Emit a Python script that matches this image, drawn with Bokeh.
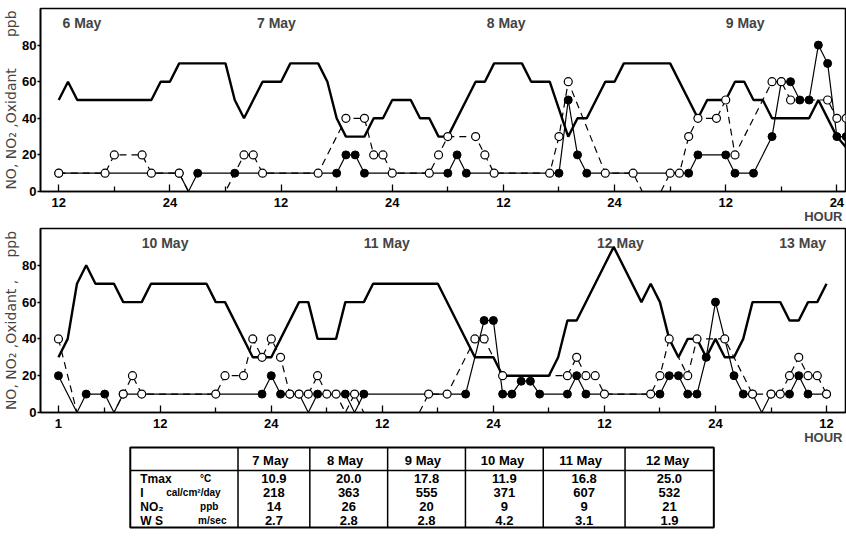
from bokeh.plotting import figure
from bokeh.models import Range1d, FixedTicker, Label, Title
from bokeh.layouts import column
from bokeh.embed import file_html
from bokeh.resources import INLINE
from bokeh.core.properties import value

FONT = "Liberation Sans"
LFONT = "DejaVu Sans"
NB = "\u00a0"

# ---------------- data: upper panel (hours counted from 0:00, 6 May) ----------------
top_ox_t = [12, 13, 14, 22, 23, 24, 25, 30, 31, 32, 34, 36, 37, 40, 41, 42, 43, 45, 46, 47, 48, 50, 51, 52,
            53, 54, 57, 58, 59, 62, 63, 65, 67, 68, 69, 71, 72, 73, 78, 81, 82, 84, 85, 86, 87, 88, 89, 93,
            94, 96, 97]
top_ox_v = [50, 60, 50, 50, 60, 60, 70, 70, 50, 40, 60, 60, 70, 70, 60, 40, 30, 30, 40, 40, 50, 50, 40, 40,
            30, 30, 60, 60, 70, 70, 60, 60, 30, 40, 40, 60, 60, 70, 70, 40, 50, 50, 60, 60, 50, 50, 40, 40,
            50, 30, 24]
top_no_t = [12, 25, 26, 27, 31, 42, 43, 44, 45, 54, 55, 56, 66, 67, 68, 69, 80, 81, 84, 85, 87, 89, 90, 91,
            92, 93, 94, 95, 96, 97]
top_no_v = [10, 10, 0, 10, 10, 10, 20, 20, 10, 10, 20, 10, 10, 50, 20, 10, 10, 20, 20, 10, 10, 30, 60, 60,
            50, 50, 80, 70, 30, 30]
top_no2_t = [12, 17, 18, 21, 22, 25, 26, 30, 32, 33, 34, 40, 43, 45, 46, 47, 48, 52, 53, 54, 57, 58, 59, 65,
             66, 67, 71, 74, 75, 77, 78, 79, 80, 81, 83, 84, 85, 89, 90, 91, 95, 96, 97]
top_no2_v = [10, 10, 20, 20, 10, 10, 0, 0, 20, 20, 10, 10, 40, 40, 20, 20, 10, 10, 20, 30, 30, 20, 10, 10,
             30, 60, 10, 10, 0, 0, 10, 10, 30, 40, 40, 50, 20, 60, 60, 50, 50, 40, 40]
top_ticks = [12, 24, 36, 48, 60, 72, 84, 96]
top_tick_labels = ["12", "24", "12", "24", "12", "24", "12", "24"]
top_minor = [18, 30, 42, 54, 66, 78, 90]
top_days = ["6  May", "7  May", "8  May", "9  May"]
top_day_t = [12.4, 33.4, 58.2, 84.0]
top_ylabel = "NO, NO₂ ,Oxidant" + NB * 7 + "ppb"

# ---------------- data: lower panel (hours counted from 0:00, 10 May) ----------------
bot_ox_t = [1, 2, 3, 4, 5, 7, 8, 10, 11, 17, 18, 19, 22, 24, 27, 28, 29, 31, 32, 34, 35, 42, 46, 48, 49,
            54, 55, 56, 57, 61, 64, 65, 66, 67, 68, 69, 70, 71, 72, 73, 74, 75, 76, 79, 80, 81, 82, 83, 84]
bot_ox_v = [30, 40, 70, 80, 70, 70, 60, 60, 70, 70, 60, 60, 30, 30, 60, 60, 40, 40, 60, 60, 70, 70, 30, 30, 20,
            20, 30, 50, 50, 90, 60, 70, 60, 40, 30, 40, 40, 30, 40, 30, 30, 40, 60, 60, 50, 50, 60, 60, 70]
bot_no_t = [1, 3, 4, 6, 7, 8, 23, 24, 25, 26, 27, 28, 29, 32, 33, 34, 45, 47, 48, 49, 50, 51, 52, 53, 56,
            57, 58, 66, 67, 68, 69, 70, 71, 72, 74, 75, 76, 77, 78, 80, 81, 82, 84]
bot_no_v = [20, 0, 10, 10, 0, 10, 10, 20, 10, 10, 10, 0, 10, 10, 0, 10, 10, 50, 50, 10, 10, 17, 17, 10, 10,
            20, 10, 10, 20, 20, 10, 10, 30, 60, 20, 10, 10, 0, 10, 10, 20, 10, 10]
bot_no2_t = [1, 3, 7, 8, 9, 10, 18, 19, 21, 22, 23, 24, 25, 26, 27, 28, 29, 30, 31, 32, 33, 34, 40, 41, 43,
             46, 47, 49, 56, 57, 58, 59, 60, 65, 66, 67, 69, 70, 73, 76, 78, 79, 80, 81, 82, 83, 84]
bot_no2_v = [40, 0, 0, 10, 20, 10, 10, 20, 20, 40, 30, 40, 30, 10, 10, 10, 20, 10, 10, 0, 10, 0, 0, 10, 10,
             40, 40, 20, 20, 30, 20, 20, 10, 10, 20, 40, 20, 40, 40, 10, 10, 10, 20, 30, 20, 20, 10]
bot_ticks = [1, 12, 24, 36, 48, 60, 72, 84]
bot_tick_labels = ["1", "12", "24", "12", "24", "12", "24", "12"]
bot_minor = [6, 18, 30, 42, 54, 66, 78]
bot_days = ["10  May", "11  May", "12  May", "13  May"]
bot_day_t = [10.0, 34.0, 59.2, 78.9]
bot_ylabel = "NO, NO₂ ,Oxidant" + NB * 1 + "," + NB * 5 + "ppb"

y_ticks = [0, 20, 40, 60, 80]
x_title = "HOUR"

# ---------------- data: meteorological table ----------------
tbl_days = ["7   May", "8   May", "9   May", "10  May", "11   May", "12  May"]
tbl_rows = ["Tmax", "I", "NO₂", "W S"]
tbl_units = ["°C", "cal/cm²/day", "ppb", "m/sec"]
tmax = ["10.9", "20.0", "17.8", "11.9", "16.8", "25.0"]
insol = ["218", "363", "555", "371", "607", "532"]
no2_mean = ["14", "26", "20", "9", "9", "21"]
wind = ["2.7", "2.8", "2.8", "4.2", "3.1", "1.9"]


def panel(xr, height, top_b, bottom_b, ox_t, ox_v, no_t, no_v, no2_t, no2_v, ticks, tick_labels, minor,
          days, day_t, ylabel):
    p = figure(width=846, height=height, x_range=Range1d(*xr), y_range=Range1d(0, 100),
               output_backend="svg", toolbar_location=None,
               min_border_left=38, min_border_right=1, min_border_top=top_b, min_border_bottom=bottom_b)
    p.outline_line_color = "black"
    p.outline_line_width = 1.6
    p.outline_line_alpha = 1.0
    p.grid.visible = False

    p.xaxis.ticker = FixedTicker(ticks=ticks, minor_ticks=minor)
    p.xaxis.major_label_overrides = {t: s for t, s in zip(ticks, tick_labels)}
    p.xaxis.major_tick_in = 7
    p.xaxis.major_tick_out = 0
    p.xaxis.minor_tick_in = 5
    p.xaxis.minor_tick_out = 0
    p.xaxis.major_label_standoff = 6
    p.yaxis.ticker = FixedTicker(ticks=y_ticks, minor_ticks=[])
    p.yaxis.major_tick_in = 0
    p.yaxis.major_tick_out = 3
    p.yaxis.major_label_standoff = 1
    p.yaxis.axis_label = ylabel
    p.yaxis.axis_label_text_font = LFONT
    p.yaxis.axis_label_text_font_style = "normal"
    p.yaxis.axis_label_text_font_size = "14px"
    p.yaxis.axis_label_standoff = 0
    for ax in (p.xaxis, p.yaxis):
        ax.axis_line_width = 1.6
        ax.major_tick_line_width = 1.3
        ax.minor_tick_line_width = 1.3
        ax.major_label_text_font = FONT
        ax.major_label_text_font_style = "bold"
        ax.major_label_text_font_size = "13px"
        ax.major_label_text_color = "black"

    p.add_layout(Title(text=x_title, align="right", offset=3, standoff=-6, text_font=FONT,
                       text_font_style="bold", text_font_size="13px"), "below")

    # oxidant (thick solid)
    p.line(ox_t, ox_v, line_width=2.4, line_color="black")
    # NO (thin solid, filled circles)
    p.line(no_t, no_v, line_width=1.2, line_color="black")
    # NO2 (dashed, open circles)
    p.line(no2_t, no2_v, line_width=1.2, line_color="black", line_dash="7 5")
    nf_t = [t for t, v in zip(no_t, no_v) if v > 0]
    nf_v = [v for v in no_v if v > 0]
    p.scatter(nf_t, nf_v, marker="circle", size=8, fill_color="black", line_color="black")
    no_t2 = [t for t, v in zip(no2_t, no2_v) if v > 0]
    no_v2 = [v for v in no2_v if v > 0]
    p.scatter(no_t2, no_v2, marker="circle", size=8, fill_color="white", line_color="black",
              line_width=1.2)

    for d, t in zip(days, day_t):
        p.add_layout(Label(x=t, y=92, text=d, text_font=FONT, text_font_style="bold",
                           text_font_size="14px", text_baseline="middle", text_align="left"))
    return p


top = panel((10.03, 96.93), 227, 8, 36, top_ox_t, top_ox_v, top_no_t, top_no_v, top_no2_t, top_no2_v,
            top_ticks, top_tick_labels, top_minor, top_days, top_day_t, top_ylabel)
bot = panel((-0.94, 86.05), 218, 1, 33, bot_ox_t, bot_ox_v, bot_no_t, bot_no_v, bot_no2_t, bot_no2_v,
            bot_ticks, bot_tick_labels, bot_minor, bot_days, bot_day_t, bot_ylabel)

# ---------------- table (frame aligned with the panels: page x 38..845) ----------------
tb = figure(width=846, height=90, x_range=Range1d(38, 845), y_range=Range1d(90, 0),
            output_backend="svg", toolbar_location=None,
            min_border_left=38, min_border_right=1, min_border_top=0, min_border_bottom=0,
            x_axis_location=None, y_axis_location=None)
tb.grid.visible = False
tb.outline_line_color = None

edges = [128, 236, 308, 386, 464, 542, 624, 713]
top_y, head_y, bot_y = 2, 25, 82
row_y = [33, 47, 61, 75]

tb.quad(left=[edges[0]], right=[edges[-1]], top=[top_y], bottom=[bot_y], fill_color=None,
        line_color="black", line_width=2)
tb.multi_line([[e, e] for e in edges[1:-1]], [[top_y, bot_y]] * (len(edges) - 2),
              line_color="black", line_width=1.5)
tb.line([edges[0], edges[-1]], [head_y, head_y], line_color="black", line_width=1.5)

centers = [(a + b) / 2 for a, b in zip(edges[1:-1], edges[2:])]
tb.text(centers, [(top_y + head_y) / 2 + 1] * len(centers), text=tbl_days, text_font=value(FONT),
        text_font_style="bold", text_font_size="13px", text_align="center", text_baseline="middle")
for vals, y in zip([tmax, insol, no2_mean, wind], row_y):
    tb.text(centers, [y] * len(centers), text=vals, text_font=value(FONT), text_font_style="bold",
            text_font_size="13px", text_align="center", text_baseline="middle")
tb.text([edges[0] + 10] * 4, row_y, text=tbl_rows, text_font=value(FONT), text_font_style="bold",
        text_font_size="12px", text_align="left", text_baseline="middle")
tb.text([198, 164, 198, 196], row_y, text=tbl_units, text_font=value(FONT), text_font_style="bold",
        text_font_size="10px", text_align="left", text_baseline="middle")

layout = column(top, bot, tb, spacing=0)
open("out.html", "w").write(file_html(layout, INLINE))
